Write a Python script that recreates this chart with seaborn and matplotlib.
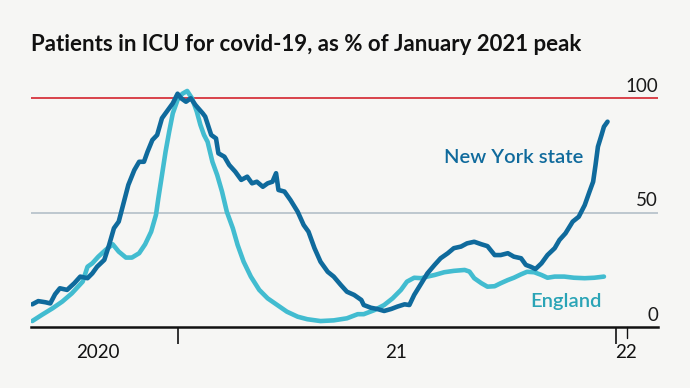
import numpy as np
import pandas as pd
import matplotlib
matplotlib.use("Agg")
import matplotlib.pyplot as plt
import matplotlib.dates as mdates
import seaborn as sns

# ---- data ----
# days since 2021-01-01, value as % of January 2021 peak
ny_day = [-121, -116, -110, -106, -102, -98, -92, -86, -81, -75, -71, -67, -61, -57, -53, -49,
          -45, -41, -36, -32, -28, -25, -21, -17, -13, -9, -4, 0, 3, 7, 11, 15, 21, 23, 28, 32,
          34, 39, 43, 48, 53, 58, 62, 66, 71, 75, 79, 82, 84, 89, 94, 100, 105, 109, 114, 119,
          125, 130, 136, 141, 147, 153, 155, 161, 166, 172, 178, 183, 189, 193, 197, 203, 208,
          214, 219, 225, 230, 236, 241, 247, 253, 258, 264, 269, 275, 280, 286, 290, 294, 298,
          303, 308, 314, 318, 323, 329, 334, 339, 343, 346, 348, 350, 353, 355, 358]
ny_val = [10.1, 11.5, 11.0, 10.5, 14.5, 17.1, 16.4, 19.3, 22.2, 21.5, 23.6, 26.5, 29.5, 36.0,
          43.3, 46.2, 54.2, 62.2, 68.7, 72.3, 72.3, 76.7, 81.8, 84.0, 91.3, 94.2, 97.8, 102.0,
          100.0, 98.5, 100.0, 97.0, 93.4, 92.0, 84.0, 82.5, 76.0, 74.5, 70.9, 68.0, 64.4, 65.8,
          62.9, 63.6, 61.4, 62.9, 63.6, 67.3, 60.0, 59.3, 55.6, 50.5, 44.7, 41.8, 34.6, 28.7,
          24.3, 22.2, 18.5, 15.6, 14.2, 12.0, 9.8, 8.6, 8.1, 7.2, 8.1, 9.1, 10.1, 9.8, 14.2,
          19.3, 23.6, 27.3, 30.2, 32.4, 34.6, 35.3, 36.7, 37.4, 36.3, 35.5, 31.6, 31.6, 32.4,
          30.9, 30.2, 27.3, 26.5, 25.5, 28.0, 31.6, 34.6, 38.2, 41.1, 46.2, 48.3, 53.4, 59.3,
          63.6, 70.9, 78.9, 84.0, 87.6, 89.8]

eng_day = [-121, -113, -104, -96, -88, -79, -75, -71, -66, -60, -54, -49, -43, -38, -32, -27,
           -22, -18, -16, -13, -10, -7, -4, 0, 4, 8, 12, 16, 19, 22, 25, 29, 33, 37, 41, 46, 50,
           55, 61, 68, 75, 83, 91, 100, 108, 119, 130, 141, 150, 155, 164, 172, 179, 186, 191,
           197, 203, 208, 214, 222, 230, 239, 243, 247, 253, 258, 264, 269, 275, 280, 286, 291,
           297, 303, 308, 314, 322, 330, 339, 347, 355]
eng_val = [2.8, 5.5, 8.4, 11.3, 14.9, 20.0, 26.5, 28.0, 30.9, 33.8, 36.3, 33.1, 30.5, 30.5,
           32.4, 36.3, 41.8, 49.1, 56.4, 66.5, 76.7, 85.4, 93.4, 99.3, 102.0, 103.2, 100.0, 94.2,
           88.4, 84.0, 81.0, 72.3, 66.5, 59.3, 50.5, 43.3, 36.0, 28.7, 22.2, 16.4, 12.7, 9.8, 6.9,
           4.7, 3.6, 2.8, 3.1, 4.0, 5.8, 5.8, 7.6, 9.8, 12.7, 16.4, 20.0, 21.7, 21.5, 22.2, 22.9,
           24.1, 24.7, 25.1, 24.4, 21.5, 19.3, 17.8, 18.0, 19.3, 20.7, 21.7, 23.2, 24.3, 24.1,
           22.9, 21.7, 22.2, 22.2, 21.7, 21.5, 21.7, 22.2]

y_ticks = [0, 50, 100]
year_labels = ["2020", "21", "22"]
year_label_dates = ["2020-10-27", "2021-07-02", "2022-01-09"]
year_ticks = ["2021-01-01", "2022-01-01"]

base = pd.Timestamp("2021-01-01")
ny = pd.DataFrame({"date": base + pd.to_timedelta(ny_day, unit="D"), "value": ny_val,
                   "series": "New York state"})
eng = pd.DataFrame({"date": base + pd.to_timedelta(eng_day, unit="D"), "value": eng_val,
                    "series": "England"})
df = pd.concat([eng, ny], ignore_index=True)

# ---- style ----
BG = "#f6f6f4"
NY_C = "#0f6a9c"
ENG_C = "#42bcd0"
RED = "#d9424a"
GRID = "#b8c4cc"

sns.set_theme(style="white")
plt.rcParams["font.family"] = ["Lato", "DejaVu Sans"]

fig = plt.figure(figsize=(6.9, 3.88), dpi=100, facecolor=BG)
ax = fig.add_axes([0.045, 0.156, 0.9086, 0.6497])
ax.set_facecolor(BG)

xmin = pd.Timestamp("2020-09-01")
xmax = pd.Timestamp("2022-02-05")
ax.set_xlim(xmin, xmax)
ax.set_ylim(0, 110)

# grid lines
ax.axhline(50, color=GRID, lw=1.3, zorder=1)
ax.axhline(100, color=RED, lw=1.4, zorder=1)

sns.lineplot(data=df, x="date", y="value", hue="series",
             palette={"England": ENG_C, "New York state": NY_C},
             hue_order=["England", "New York state"],
             lw=3.3, ax=ax, legend=False, zorder=3)
for ln in ax.lines:
    ln.set_solid_joinstyle("round")
    ln.set_solid_capstyle("round")

# y tick labels sitting on the lines, right aligned
for v in y_ticks:
    ax.text(1.0, v + 1.6, str(v), transform=ax.get_yaxis_transform(), ha="right", va="bottom",
            fontsize=13.5, fontweight="normal", color="#1a1a1a", zorder=4)

ax.set_yticks([])
ax.set_ylabel("")
ax.set_xlabel("")

# x axis
for s in ["top", "right", "left"]:
    ax.spines[s].set_visible(False)
ax.spines["bottom"].set_color("#111111")
ax.spines["bottom"].set_linewidth(1.8)
ax.set_xticks(pd.to_datetime(year_ticks))
ax.set_xticklabels([])
ax.tick_params(axis="x", direction="out", length=12, width=1.2, color="#111111", bottom=True)
ax.plot([pd.Timestamp("2022-01-10")] * 2, [0, -4.5], color="#111111", lw=1.0, clip_on=False)
for lab, d in zip(year_labels, year_label_dates):
    ax.text(pd.Timestamp(d), -11, lab, ha="center", va="center", fontsize=13.5,
            fontweight="normal", color="#111111")

# series labels
ax.text(pd.Timestamp("2021-12-05"), 74, "New York state", ha="right", va="center",
        fontsize=14.5, fontweight="semibold", color=NY_C)
ax.text(pd.Timestamp("2021-12-20"), 11.5, "England", ha="right", va="center",
        fontsize=14.5, fontweight="semibold", color="#2aa4b6")

fig.text(0.045, 0.885, "Patients in ICU for covid-19, as % of January 2021 peak",
         fontsize=16, fontweight="bold", color="#111111", ha="left", va="center")

fig.savefig("out.png", dpi=100, facecolor=BG)
